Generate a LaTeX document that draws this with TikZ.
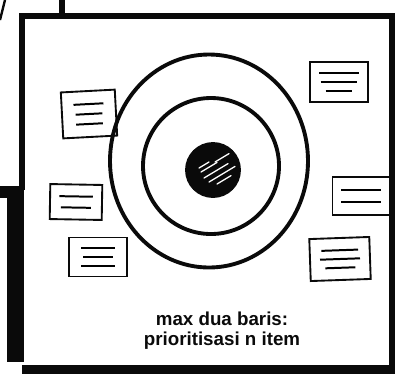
\documentclass[tikz,border=0pt]{standalone}
\usepackage{fontspec}
\setmainfont{Liberation Sans}
\usetikzlibrary{positioning,calc,shapes.geometric}
\definecolor{Ink}{HTML}{0A0A0A}
\definecolor{Paper}{HTML}{FFFFFF}
\newcommand\cardline[1]{\rule{#1}{1.7pt}}
\tikzset{
  frame/.style={draw=Ink,line width=4.6pt},
  ring/.style={draw=Ink,line width=3.3pt,inner sep=0pt},
  card/.style={draw=Ink,line width=1.6pt,fill=Paper,inner sep=0pt,align=center,font=\footnotesize},
  hatch/.style={draw=Paper,line width=1.1pt,line cap=round}
}
\begin{document}
\begin{tikzpicture}[x=0.3mm,y=-0.3mm]
  \useasboundingbox (0,0) rectangle (395,374);
  \fill[Paper] (0,0) rectangle (395,374);
  % outer frame and the bits of the next panels
  \fill[Ink] (22,365) rectangle (395,374);
  \fill[Ink] (7,187) rectangle (24,362);
  \fill[Ink] (0,186) rectangle (24,198);
  \draw[frame] (22,190) -- (22,16) -- (392,16) -- (392,368);
  \draw[frame] (62,0) -- (62,16);
  \draw[Ink,line width=2pt] (0,20) -- (5,0);
  % cards
  \node[card,rotate=3,minimum width=54*0.3mm,minimum height=46*0.3mm] (noteA) at (89,114)
    {\cardline{9mm}\\[-1pt]\cardline{8mm}\\[-1pt]\cardline{8mm}};
  \node[card,minimum width=58*0.3mm,minimum height=40*0.3mm] (noteB) at (339,82)
    {\cardline{12mm}\\[-2pt]\cardline{11mm}\\[-2pt]\cardline{8mm}};
  \node[card,rotate=-1,minimum width=52*0.3mm,minimum height=35*0.3mm] (noteC) at (76,202)
    {\cardline{10mm}\\[0pt]\cardline{9mm}};
  \node[card,minimum width=58*0.3mm,minimum height=39*0.3mm] (noteD) at (98,257)
    {\cardline{10mm}\\[-2pt]\cardline{9mm}\\[-2pt]\cardline{10mm}};
  \node[card,minimum width=57*0.3mm,minimum height=38*0.3mm] (noteE) at (361,196)
    {\cardline{12mm}\\[1pt]\cardline{12mm}};
  \node[card,rotate=2,minimum width=60*0.3mm,minimum height=42*0.3mm] (noteF) at (340,259)
    {\cardline{11mm}\\[-2pt]\cardline{12mm}\\[-2pt]\cardline{9mm}};
  % rings
  \node[ring,ellipse,minimum width=198*0.3mm,minimum height=213*0.3mm] (outer) at (209,161) {};
  \node[ring,circle,minimum size=136*0.3mm] (inner) at (211,166) {};
  \node[ring,circle,fill=Ink,minimum size=52*0.3mm] (core) at (213,170) {};
  \foreach \dx/\dy/\len in {-12/2/16,-9/8/24,-4/12/26,2/-8/14,-14/-2/10,4/14/14}
    \draw[hatch] ($(core)+(\dx,\dy)$) -- ++(\len,-0.6*\len);
  % caption
  \node[align=center,font=\bfseries\fontsize{16}{17}\selectfont,text=Ink,inner sep=0pt] (caption) at (222,331)
    {max dua baris:\\prioritisasi n item};
\end{tikzpicture}
\end{document}
